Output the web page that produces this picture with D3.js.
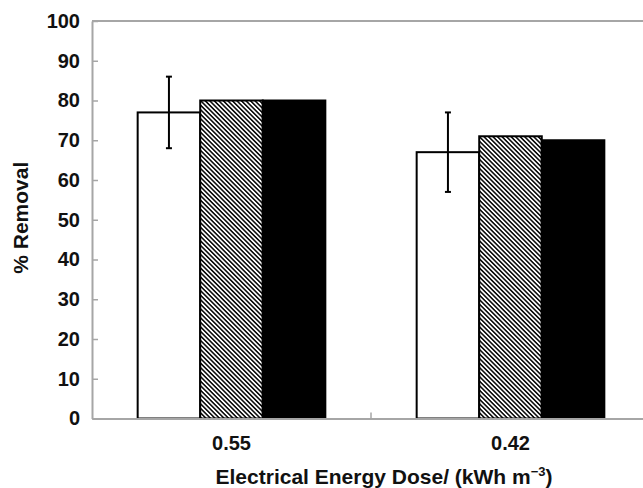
<!DOCTYPE html>
<html>
<head>
<meta charset="utf-8"/>
<title>% Removal vs Electrical Energy Dose</title>
<script src="https://d3js.org/d3.v7.min.js"></script>
<style>
  body { margin: 0; background: #fff; }
  text { font-family: "Liberation Sans", Arial, sans-serif; font-weight: bold; fill: #111; }
</style>
</head>
<body>
<div id="chart"></div>
<script>
// data
const categories = ["0.55", "0.42"];
const seriesNames = ["open", "hatched", "solid"];
const openValues = [77, 67];
const hatchedValues = [80, 71];
const solidValues = [80, 70];
const errLow = [68, 57];   // error bar on the open bars
const errHigh = [86, 77];
const yTicks = [0, 10, 20, 30, 40, 50, 60, 70, 80, 90, 100];

const width = 643, height = 488;
const margin = {top: 21, left: 92, bottom: 69};
const plotRight = 650; // frame runs off the right edge

const svg = d3.select('#chart').append('svg')
    .attr('width', width)
    .attr('height', height);

const defs = svg.append('defs');
const pat = defs.append('pattern')
    .attr('id', 'hatch')
    .attr('patternUnits', 'userSpaceOnUse')
    .attr('width', 3.2)
    .attr('height', 3.2)
    .attr('patternTransform', 'rotate(45)');
pat.append('rect').attr('width', 3.2).attr('height', 3.2).attr('fill', '#fff');
pat.append('line')
    .attr('x1', 0).attr('y1', 0.8).attr('x2', 3.2).attr('y2', 0.8)
    .attr('stroke', '#000').attr('stroke-width', 1.5);

const x0 = d3.scaleBand()
    .domain(categories)
    .range([margin.left, plotRight])
    .padding(0);

const x1 = d3.scaleBand()
    .domain(seriesNames)
    .range([0, x0.bandwidth()])
    .paddingInner(0)
    .paddingOuter(0.73);

const y = d3.scaleLinear()
    .domain([0, 100])
    .range([height - margin.bottom - 0.5, margin.top]);

const fills = {open: '#fff', hatched: 'url(#hatch)', solid: '#000'};
const rows = categories.map((c, i) => ({
  cat: c,
  values: [
    {key: 'open', v: openValues[i]},
    {key: 'hatched', v: hatchedValues[i]},
    {key: 'solid', v: solidValues[i]}
  ],
  lo: errLow[i], hi: errHigh[i]
}));

// frame: top line
svg.append('line')
    .attr('x1', margin.left).attr('x2', plotRight)
    .attr('y1', y(100)).attr('y2', y(100))
    .attr('stroke', '#a6a6a6').attr('stroke-width', 2);

// bars
const groups = svg.selectAll('.grp')
    .data(rows)
    .enter().append('g')
    .attr('class', 'grp')
    .attr('transform', d => `translate(${x0(d.cat)},0)`);

groups.selectAll('rect')
    .data(d => d.values)
    .enter().append('rect')
    .attr('x', d => x1(d.key))
    .attr('y', d => y(d.v))
    .attr('width', x1.bandwidth())
    .attr('height', d => y(0) - y(d.v))
    .attr('fill', d => fills[d.key])
    .attr('stroke', '#000')
    .attr('stroke-width', 2);

// error bars
const eb = groups.append('g')
    .attr('transform', `translate(${x1('open') + x1.bandwidth() / 2},0)`);
eb.append('line')
    .attr('y1', d => y(d.lo)).attr('y2', d => y(d.hi))
    .attr('stroke', '#000').attr('stroke-width', 2);
eb.append('line')
    .attr('x1', -3).attr('x2', 3)
    .attr('y1', d => y(d.hi)).attr('y2', d => y(d.hi))
    .attr('stroke', '#000').attr('stroke-width', 2);
eb.append('line')
    .attr('x1', -3).attr('x2', 3)
    .attr('y1', d => y(d.lo)).attr('y2', d => y(d.lo))
    .attr('stroke', '#000').attr('stroke-width', 2);

// y axis
const yAxis = svg.append('g')
    .attr('transform', `translate(${margin.left},0)`)
    .call(d3.axisLeft(y).tickValues(yTicks).tickSizeInner(-6).tickSizeOuter(0).tickPadding(12));
yAxis.select('.domain').attr('stroke', '#a6a6a6').attr('stroke-width', 2);
yAxis.selectAll('.tick line').attr('stroke', '#a6a6a6').attr('stroke-width', 1.5);
yAxis.selectAll('text').style('font-size', '20px').attr('fill', '#111');

// x axis
const xAxis = svg.append('g')
    .attr('transform', `translate(0,${y(0)})`)
    .call(d3.axisBottom(x0).tickSize(0).tickPadding(17));
xAxis.select('.domain').attr('stroke', '#a6a6a6').attr('stroke-width', 2);
xAxis.selectAll('text').style('font-size', '20px').attr('fill', '#111');
// divider tick between categories
xAxis.append('line')
    .attr('x1', x0(categories[1])).attr('x2', x0(categories[1]))
    .attr('y1', 0).attr('y2', -6)
    .attr('stroke', '#a6a6a6').attr('stroke-width', 1.5);

// axis titles
const xt = svg.append('text')
    .attr('x', 384)
    .attr('y', 484)
    .attr('text-anchor', 'middle')
    .style('font-size', '21px');
xt.append('tspan').text('Electrical Energy Dose/ (kWh m');
xt.append('tspan').attr('dy', -8).style('font-size', '13px').text('\u22123');
xt.append('tspan').attr('dy', 8).text(')');

svg.append('text')
    .attr('transform', `translate(28,${(y(0) + y(100)) / 2 - 2}) rotate(-90)`)
    .attr('text-anchor', 'middle')
    .style('font-size', '21px')
    .text('% Removal');
</script>
</body>
</html>
